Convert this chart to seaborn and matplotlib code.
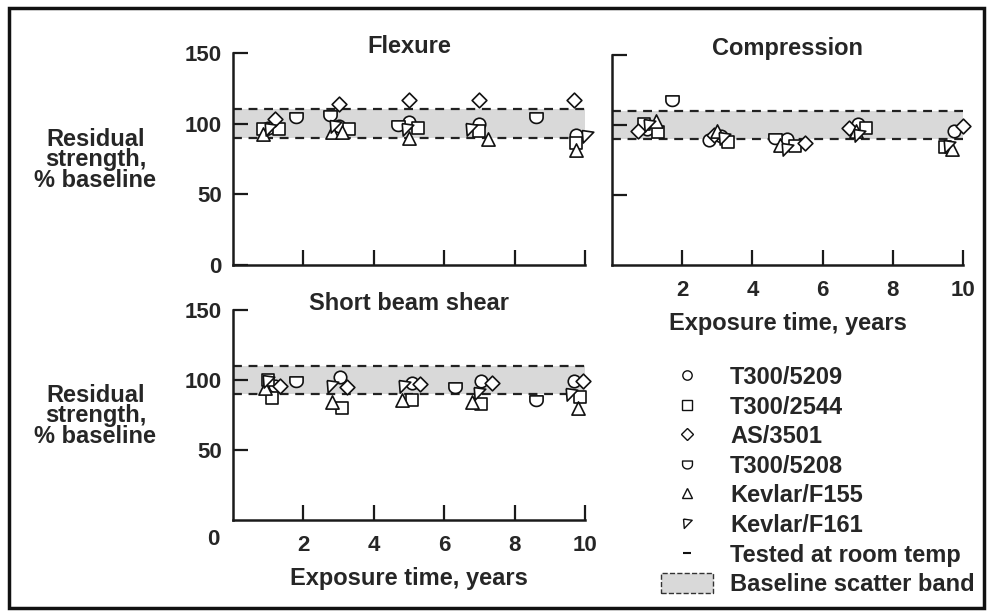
import numpy as np
import matplotlib
matplotlib.use('Agg')
import matplotlib.pyplot as plt
from matplotlib.path import Path
from matplotlib.lines import Line2D
from matplotlib.patches import Patch, Rectangle
import seaborn as sns
import pandas as pd

materials = ['T300/5209', 'T300/2544', 'AS/3501', 'T300/5208', 'Kevlar/F155', 'Kevlar/F161']

# Flexure
flex_years = [1.0, 0.85, 1.3, 1.2, 1.8, 0.85, 1.05,
              3.0, 3.3, 3.0, 2.75, 2.8, 3.1, 2.9,
              5.0, 5.25, 5.0, 4.7, 5.0, 4.95,
              7.0, 7.0, 7.0, 7.25, 6.75,
              8.6,
              9.75, 9.75, 9.7, 9.75, 10.05]
flex_material = ['T300/5209', 'T300/2544', 'T300/2544', 'AS/3501', 'T300/5208', 'Kevlar/F155', 'Kevlar/F161',
                 'T300/5209', 'T300/2544', 'AS/3501', 'T300/5208', 'Kevlar/F155', 'Kevlar/F155', 'Kevlar/F161',
                 'T300/5209', 'T300/2544', 'AS/3501', 'T300/5208', 'Kevlar/F155', 'Kevlar/F161',
                 'T300/5209', 'T300/2544', 'AS/3501', 'Kevlar/F155', 'Kevlar/F161',
                 'T300/5208',
                 'T300/5209', 'T300/2544', 'AS/3501', 'Kevlar/F155', 'Kevlar/F161']
flex_strength = [97, 96, 96, 103, 105, 93, 96,
                 98, 96, 114, 106, 94, 94, 98,
                 101, 97, 117, 99, 90, 96,
                 100, 95, 117, 89, 96,
                 105,
                 92, 86, 117, 81, 91]

# Compression
comp_years = [1.7,
              1.0, 0.9, 1.3, 0.75, 1.25, 1.05,
              2.75, 3.1, 3.3, 2.9, 3.0, 3.2,
              5.0, 5.2, 5.5, 4.65, 4.8, 5.0,
              7.0, 7.25, 6.75, 6.95, 7.05,
              9.75, 10.0, 9.5, 9.7, 9.6]
comp_material = ['T300/5208',
                 'T300/5209', 'T300/2544', 'T300/2544', 'AS/3501', 'Kevlar/F155', 'Kevlar/F161',
                 'T300/5209', 'T300/5209', 'T300/2544', 'AS/3501', 'Kevlar/F155', 'Kevlar/F161',
                 'T300/5209', 'T300/2544', 'AS/3501', 'T300/5208', 'Kevlar/F155', 'Kevlar/F161',
                 'T300/5209', 'T300/2544', 'AS/3501', 'Kevlar/F155', 'Kevlar/F161',
                 'T300/5209', 'AS/3501', 'T300/2544', 'Kevlar/F155', 'Kevlar/F161']
comp_strength = [118,
                 97, 101, 95, 96, 103, 100,
                 89, 92, 88, 93, 96, 91,
                 90, 85, 87, 91, 86, 83,
                 101, 98, 98, 96, 93,
                 96, 99, 84, 83, 85]

# Short beam shear
sbs_years = [1.0, 0.9, 1.0, 1.1, 1.2, 1.35, 1.8,
             3.05, 2.8, 3.25, 2.8, 3.1,
             4.85, 5.1, 5.3, 4.8, 5.1,
             6.3,
             7.05, 7.35, 7.0, 6.8, 7.05,
             8.6,
             9.7, 9.95, 9.6, 9.85, 9.8]
sbs_material = ['T300/2544', 'Kevlar/F155', 'Kevlar/F161', 'T300/2544', 'T300/5209', 'AS/3501', 'T300/5208',
                'T300/5209', 'Kevlar/F161', 'AS/3501', 'Kevlar/F155', 'T300/2544',
                'Kevlar/F161', 'T300/5209', 'AS/3501', 'Kevlar/F155', 'T300/2544',
                'T300/5208',
                'T300/5209', 'AS/3501', 'Kevlar/F161', 'Kevlar/F155', 'T300/2544',
                'T300/5208',
                'T300/5209', 'AS/3501', 'Kevlar/F161', 'T300/2544', 'Kevlar/F155']
sbs_strength = [100, 94, 99, 87, 96, 96, 99,
                102, 96, 95, 84, 80,
                96, 98, 97, 86, 86,
                95,
                99, 98, 91, 84, 83,
                86,
                99, 99, 90, 88, 80]

band_low, band_high = 90, 110


# marker shapes that matplotlib does not have
theta = np.linspace(np.pi, 2 * np.pi, 25)
shield_verts = list(zip(np.cos(theta), np.sin(theta) * 0.9)) + [(1, 0.7), (-1, 0.7), (-1, 0)]
shield = Path(shield_verts)
skew_tri = Path([(-0.8, 0.9), (0.95, 0.65), (-0.65, -1.0), (-0.8, 0.9)])

marker_map = {'T300/5209': 'o', 'T300/2544': 's', 'AS/3501': 'D',
              'T300/5208': shield, 'Kevlar/F155': '^', 'Kevlar/F161': skew_tri}
size_map = {'T300/5209': 9, 'T300/2544': 9, 'AS/3501': 7.5,
            'T300/5208': 9.5, 'Kevlar/F155': 9.5, 'Kevlar/F161': 9.5}

FS = 17
TICK_FS = 16


def draw_panel(ax, years, material, strength, title):
    df = pd.DataFrame({'years': years, 'material': material, 'strength': strength})
    ax.axhspan(band_low, band_high, xmin=0, xmax=1, color='#d9d9d9', lw=0, zorder=0)
    ax.hlines([band_low, band_high], 0, 10, colors='#222222', linestyles=(0, (4, 3)),
              linewidth=1.6, zorder=1)
    for mat in materials:
        sub = df[df['material'] == mat]
        if len(sub) == 0:
            continue
        sns.scatterplot(data=sub, x='years', y='strength', ax=ax, marker=marker_map[mat],
                        s=size_map[mat] ** 2, color='white', edgecolor='#111111',
                        linewidth=1.2, zorder=3, clip_on=False, legend=False)
    ax.set_xlim(0, 10)
    ax.set_ylim(0, 150)
    ax.set_title(title, fontsize=FS, fontweight='bold', y=1.0, pad=0)
    ax.set_xlabel('')
    ax.set_ylabel('')
    for side in ['top', 'right']:
        ax.spines[side].set_visible(False)
    for side in ['left', 'bottom']:
        ax.spines[side].set_linewidth(1.8)
        ax.spines[side].set_color('#1a1a1a')
    ax.tick_params(bottom=True, left=True, direction='in', length=11, width=1.6,
                   color='#1a1a1a', labelsize=TICK_FS)
    ax.tick_params(axis='y', pad=8)
    ax.tick_params(axis='x', pad=11)
    ax.set_xticks([2, 4, 6, 8, 10])


sns.set_theme(style='white')
plt.rcParams['font.family'] = ['Liberation Sans', 'DejaVu Sans']
plt.rcParams['font.weight'] = 'bold'

fig = plt.figure(figsize=(9.93, 6.15), dpi=100)
ax_flex = fig.add_axes([0.2346, 0.569, 0.3545, 0.345])
ax_comp = fig.add_axes([0.6163, 0.569, 0.3535, 0.3415])
ax_sbs = fig.add_axes([0.2346, 0.1545, 0.3545, 0.3415])

draw_panel(ax_flex, flex_years, flex_material, flex_strength, 'Flexure')
draw_panel(ax_comp, comp_years, comp_material, comp_strength, 'Compression')
draw_panel(ax_sbs, sbs_years, sbs_material, sbs_strength, 'Short beam shear')

ax_flex.set_yticks([0, 50, 100, 150])
ax_flex.set_xticklabels([])
ax_comp.set_yticks([50, 100, 150])
ax_comp.set_yticklabels([])
ax_sbs.set_yticks([50, 100, 150])
ax_sbs.text(-0.057, -0.095, '0', transform=ax_sbs.transAxes, ha='center', va='center',
            fontsize=TICK_FS, fontweight='bold')

for ax in [ax_comp, ax_sbs]:
    ax.set_xlabel('Exposure time, years', fontsize=FS, fontweight='bold', labelpad=8)

for ypos in [0.74, 0.3236]:
    fig.text(0.096, ypos, 'Residual\nstrength,\n% baseline', ha='center', va='center',
             fontsize=FS, fontweight='bold', linespacing=0.85)

# legend
handles = [Line2D([], [], ls='', marker=marker_map[m], markersize=size_map[m] * 0.75,
                  markerfacecolor='white', markeredgecolor='#111111', markeredgewidth=1.0)
           for m in materials]
handles.append(Line2D([], [], ls='', marker='_', markersize=6, markeredgewidth=1.5,
                      color='#111111'))
handles.append(Patch(facecolor='#d9d9d9', edgecolor='#333333', linestyle='--', linewidth=1.0))
labels = materials + ['Tested at room temp', 'Baseline scatter band']
fig.legend(handles, labels, loc='upper left', bbox_to_anchor=(661 / 993, 0.405), frameon=False,
           fontsize=FS, labelspacing=0.28, handlelength=2.2, handleheight=0.9,
           handletextpad=0.72, borderaxespad=0, borderpad=0)

fig.patches.append(Rectangle((0.009, 0.012), 0.982, 0.975, transform=fig.transFigure,
                             fill=False, edgecolor='#111111', linewidth=2.5))

fig.savefig('out.png', dpi=100)
